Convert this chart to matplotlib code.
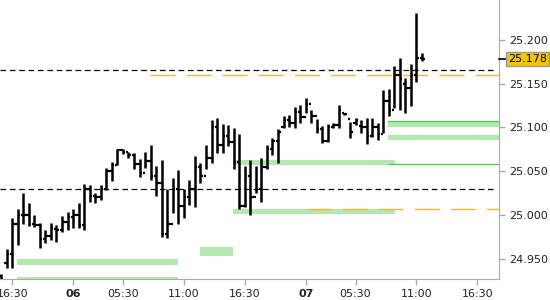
import matplotlib.pyplot as plt

# OHLC bars (30-min)
highs = [24.932, 24.961, 24.996, 25.007, 25.025, 25.014, 25.000, 24.991, 24.983, 24.991,
         24.988, 24.999, 25.003, 25.007, 25.014, 25.035, 25.034, 25.025, 25.034, 25.054,
         25.060, 25.075, 25.075, 25.072, 25.071, 25.064, 25.072, 25.080, 25.056, 25.063,
         25.030, 25.042, 25.051, 25.030, 25.040, 25.067, 25.059, 25.080, 25.108, 25.111,
         25.104, 25.103, 25.099, 25.093, 25.056, 25.063, 25.056, 25.065, 25.080, 25.088,
         25.098, 25.113, 25.114, 25.123, 25.126, 25.134, 25.120, 25.110, 25.102, 25.104,
         25.105, 25.126, 25.117, 25.106, 25.111, 25.108, 25.111, 25.111, 25.105, 25.143,
         25.144, 25.170, 25.179, 25.157, 25.173, 25.231, 25.185]
lows = [24.923, 24.939, 24.939, 24.966, 24.990, 24.987, 24.986, 24.962, 24.968, 24.971,
        24.969, 24.980, 24.983, 24.985, 24.985, 24.983, 25.015, 25.014, 25.017, 25.028,
        25.039, 25.057, 25.070, 25.065, 25.052, 25.043, 25.054, 25.040, 25.022, 24.975,
        24.974, 25.002, 24.990, 24.996, 25.011, 25.009, 25.036, 25.052, 25.059, 25.071,
        25.071, 25.079, 25.052, 25.007, 25.009, 25.000, 25.025, 25.015, 25.052, 25.069,
        25.059, 25.099, 25.100, 25.099, 25.105, 25.117, 25.105, 25.094, 25.082, 25.083,
        25.099, 25.099, 25.114, 25.088, 25.103, 25.094, 25.081, 25.089, 25.086, 25.094,
        25.113, 25.122, 25.120, 25.117, 25.124, 25.152, 25.176]
opens = [24.930, 24.945, 24.955, 24.990, 25.000, 25.000, 24.990, 24.988, 24.972, 24.976,
         24.984, 24.983, 24.992, 24.997, 25.000, 24.988, 25.030, 25.022, 25.020, 25.030,
         25.050, 25.057, 25.074, 25.072, 25.068, 25.058, 25.048, 25.062, 25.045, 25.036,
         24.978, 24.990, 25.030, 25.010, 25.020, 25.030, 25.055, 25.045, 25.065, 25.100,
         25.080, 25.090, 25.083, 25.060, 25.010, 25.045, 25.020, 25.030, 25.055, 25.075,
         25.085, 25.100, 25.108, 25.105, 25.118, 25.112, 25.127, 25.113, 25.098, 25.085,
         25.100, 25.103, 25.117, 25.110, 25.105, 25.102, 25.100, 25.090, 25.100, 25.092,
         25.130, 25.120, 25.160, 25.150, 25.145, 25.160, 25.180]
closes = [24.925, 24.955, 24.990, 25.000, 25.000, 24.990, 24.988, 24.972, 24.976, 24.985,
          24.983, 24.992, 24.997, 25.000, 24.988, 25.030, 25.022, 25.020, 25.030, 25.050,
          25.057, 25.074, 25.072, 25.068, 25.058, 25.048, 25.062, 25.045, 25.036, 24.978,
          24.990, 25.030, 25.010, 25.020, 25.030, 25.055, 25.045, 25.065, 25.100, 25.080,
          25.090, 25.083, 25.060, 25.010, 25.045, 25.020, 25.030, 25.055, 25.075, 25.085,
          25.095, 25.108, 25.105, 25.118, 25.112, 25.127, 25.113, 25.098, 25.085, 25.100,
          25.103, 25.120, 25.115, 25.095, 25.108, 25.100, 25.090, 25.100, 25.092, 25.130,
          25.120, 25.160, 25.155, 25.145, 25.160, 25.180, 25.178]

last_price = 25.178

# horizontal levels
black_levels = [25.166, 25.030]
orange_levels = [(25.160, 26.9), (25.007, 55.1)]   # (price, start bar)
# green zones: (x0, x1, y_low, y_high)
zones = [(2.9, 32.0, 24.943, 24.9495),
         (2.9, 32.0, 24.924, 24.929),
         (35.9, 41.9, 24.953, 24.963),
         (41.9, 71.1, 25.057, 25.063),
         (41.9, 71.1, 25.001, 25.007),
         (69.9, 89.9, 25.100, 25.106),
         (69.9, 89.9, 25.086, 25.091)]
green_lines = [(70.0, 25.058), (69.9, 25.107)]

xtick_pos = [2, 13, 22, 33, 44, 55, 64, 75, 86]
xtick_labels = ["16:30", "06", "05:30", "11:00", "16:30", "07", "05:30", "11:00", "16:30"]
ytick_vals = [24.950, 25.000, 25.050, 25.100, 25.150, 25.200]

fig = plt.figure(figsize=(5.5, 3), dpi=100)
ax = fig.add_axes([0, 0.07, 499 / 550, 0.93])
plt.rcParams['font.family'] = 'DejaVu Sans'

x = list(range(len(highs)))
xmax = 89.9

for x0, x1, y0, y1 in zones:
    ax.fill_between([x0, x1], y0, y1, color='#b3e9b0', lw=0, zorder=1)
for x0, y in green_lines:
    ax.plot([x0, xmax], [y, y], color='#4cc94c', lw=0.9, zorder=2)

for y in black_levels:
    ax.plot([-0.2, 89.3], [y, y], color='black', lw=0.9, dashes=(4.5, 3), zorder=2)
for y, x0 in orange_levels:
    ax.plot([x0, xmax], [y, y], color='#f3b33d', lw=1.0, dashes=(18, 8), zorder=2)

ax.vlines(x, lows, highs, color='black', lw=1.8, zorder=3)
ax.hlines(opens, [i - 0.45 for i in x], x, color='black', lw=1.6, zorder=3)
ax.hlines(closes, x, [i + 0.45 for i in x], color='black', lw=1.6, zorder=3)

ax.set_xlim(-0.2, xmax)
ax.set_ylim(24.9266, 25.2458)

ax.yaxis.tick_right()
ax.set_yticks(ytick_vals)
ax.set_yticklabels([f"{v:.3f}" for v in ytick_vals])
ax.set_xticks(xtick_pos)
ax.set_xticklabels(xtick_labels)
for lbl in ax.get_xticklabels():
    if len(lbl.get_text()) == 2:
        lbl.set_fontweight('bold')

ax.tick_params(axis='both', colors='#aaaaaa', labelcolor='#222222', labelsize=8,
               length=4, width=1)
ax.tick_params(axis='y', pad=3)
ax.tick_params(axis='x', pad=3)
for side in ['top', 'left']:
    ax.spines[side].set_visible(False)
for side in ['right', 'bottom']:
    ax.spines[side].set_color('#aaaaaa')

# last price marker
ax.plot([1.0, 1.012], [last_price, last_price], color='black', lw=1.2,
        transform=ax.get_yaxis_transform(), clip_on=False, zorder=5)
ax.text(1.018, last_price, f"{last_price:.3f}", transform=ax.get_yaxis_transform(),
        ha='left', va='center', fontsize=8, color='black',
        bbox=dict(boxstyle='square,pad=0.2', facecolor='#f6c500', edgecolor='#999999', lw=1))

fig.savefig('out.png', dpi=100)
